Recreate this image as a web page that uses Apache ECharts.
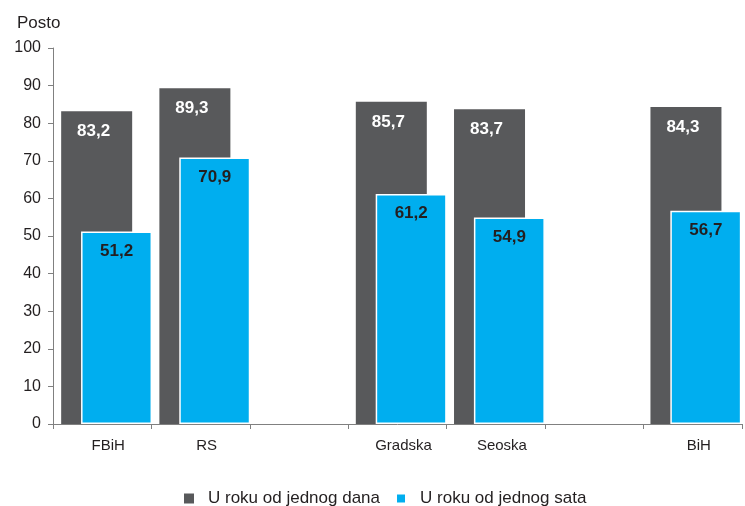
<!DOCTYPE html>
<html>
<head>
<meta charset="utf-8">
<script src="https://cdn.jsdelivr.net/npm/echarts@6/dist/echarts.min.js"></script>
<style>html,body{margin:0;padding:0;background:#fff;}#c{width:745px;height:506px;}</style>
</head>
<body>
<div id="c"></div>
<script>
const categories = ['FBiH', 'RS', '', 'Gradska', 'Seoska', '', 'BiH'];
const dayValues = [83.2, 89.3, '-', 85.7, 83.7, '-', 84.3];
const hourValues = [51.2, 70.9, '-', 61.2, 54.9, '-', 56.7];
const seriesNames = ['U roku od jednog dana', 'U roku od jednog sata'];
const yTicks = [0, 10, 20, 30, 40, 50, 60, 70, 80, 90, 100];

const chart = echarts.init(document.getElementById('c'));
const fmt = p => String(p.value.toFixed(1)).replace('.', ',');
const yMin = yTicks[0], yMax = yTicks[yTicks.length - 1];
chart.setOption({
  animation: false,
  textStyle: { fontFamily: 'Liberation Sans, Arial, sans-serif' },
  title: {
    text: 'Posto', left: 12, top: 10,
    textStyle: { fontSize: 17, fontWeight: 'normal', color: '#231f20' }
  },
  grid: [
    { left: 53, right: 3, top: 48, bottom: 82, containLabel: false },
    { left: 57.5, right: -1.5, top: 48, bottom: 82, containLabel: false }
  ],
  legend: {
    left: 179, top: 485,
    itemWidth: 10, itemHeight: 10, itemGap: 15,
    icon: 'rect',
    textStyle: { fontSize: 17, color: '#231f20', padding: [0, 0, 0, 9] },
    data: seriesNames
  },
  xAxis: [
    {
      type: 'category', gridIndex: 0,
      data: categories,
      axisLine: { lineStyle: { color: '#808080', width: 1 } },
      axisTick: { show: true, length: 5, alignWithLabel: false, lineStyle: { color: '#808080' } },
      axisLabel: { fontSize: 15, color: '#231f20', margin: 14, padding: [0, 0, 0, 12] }
    },
    {
      type: 'category', gridIndex: 1, data: categories, show: false
    }
  ],
  yAxis: [
    {
      type: 'value', gridIndex: 0, min: yMin, max: yMax, interval: 10,
      splitLine: { show: false },
      axisLine: { show: true, lineStyle: { color: '#808080' } },
      axisTick: { show: true, length: 5, lineStyle: { color: '#808080' } },
      axisLabel: { fontSize: 16, color: '#231f20', margin: 12 }
    },
    {
      type: 'value', gridIndex: 1, min: yMin, max: yMax, interval: 10, show: false,
      splitLine: { show: false }
    }
  ],
  series: [
    {
      name: seriesNames[0], type: 'bar', data: dayValues,
      xAxisIndex: 1, yAxisIndex: 1,
      barWidth: 71, barGap: '-72%',
      itemStyle: { color: '#58595b' },
      label: { show: true, position: 'insideTop', distance: 12, offset: [-3, 0], formatter: fmt,
        color: '#ffffff', fontSize: 17, fontWeight: 'bold' }
    },
    {
      name: seriesNames[1], type: 'bar', data: hourValues,
      xAxisIndex: 1, yAxisIndex: 1,
      barWidth: 71,
      itemStyle: { color: '#00aeef', borderColor: '#ffffff', borderWidth: 1.5 },
      label: { show: true, position: 'insideTop', distance: 11, formatter: fmt,
        color: '#231f20', fontSize: 17, fontWeight: 'bold' }
    }
  ]
});
</script>
</body>
</html>
